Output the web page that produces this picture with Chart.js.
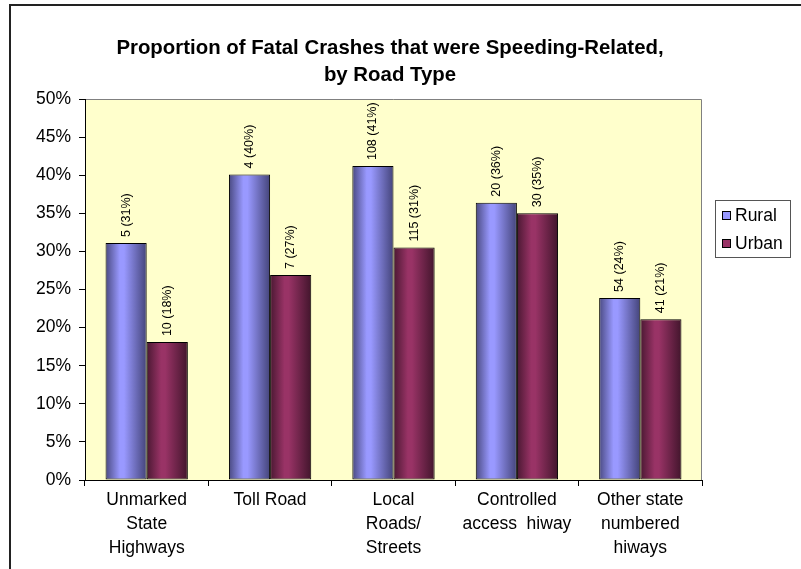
<!DOCTYPE html>
<html>
<head>
<meta charset="utf-8">
<script src="https://cdn.jsdelivr.net/npm/chart.js@4"></script>
<style>
  body { margin: 0; background: #fff; }
  #wrap { position: relative; width: 801px; height: 569px; }
</style>
</head>
<body>
<div id="wrap"><canvas id="crash_chart" width="801" height="569"></canvas></div>
<script>
// Chart data
const roadTypes = [
  ["Unmarked", "State", "Highways"],
  ["Toll Road"],
  ["Local", "Roads/", "Streets"],
  ["Controlled", "access  hiway"],
  ["Other state", "numbered", "hiways"]
];
const ruralPct = [31.1, 40.1, 41.2, 36.4, 23.9];
const urbanPct = [18.1, 26.9, 30.5, 35.0, 21.1];
const ruralCounts = [5, 4, 108, 20, 54];
const urbanCounts = [10, 7, 115, 30, 41];
const yTicks = [0, 5, 10, 15, 20, 25, 30, 35, 40, 45, 50];

const titleLines = ["Proportion of Fatal Crashes that were Speeding-Related,", "by Road Type"];
const FONT = "'Liberation Sans', Arial, sans-serif";
const CAT_PCT = 0.667;

// gradient stops for the cylinder-ish Excel fill
const fills = {
  Rural: ["#4a4a82", "#9999ff", "#9999ff", "#44447a"],
  Urban: ["#4a1832", "#993366", "#993366", "#42152c"]
};

const barFill = (ctx) => {
  const chart = ctx.chart;
  const area = chart.chartArea;
  const label = ctx.dataset.label;
  if (!area || ctx.dataIndex === undefined) return fills[label][1];
  const xs = chart.scales.x;
  const catW = xs.width / roadTypes.length;
  const barW = catW * CAT_PCT / 2;
  const center = xs.getPixelForValue(ctx.dataIndex);
  const left = center - barW + ctx.datasetIndex * barW;
  const g = chart.ctx.createLinearGradient(left, 0, left + barW, 0);
  const s = fills[label];
  g.addColorStop(0, s[0]);
  g.addColorStop(0.35, s[1]);
  g.addColorStop(0.45, s[2]);
  g.addColorStop(1, s[3]);
  return g;
};

// frame, plot background and border
const backdrop = {
  id: "backdrop",
  beforeDraw(chart) {
    const c = chart.ctx;
    const a = chart.chartArea;
    c.save();
    c.fillStyle = "#fff";
    c.fillRect(0, 0, chart.width, chart.height);
    c.fillStyle = "#222";
    c.fillRect(9, 4, 2, chart.height - 4);
    c.fillRect(9, 4, chart.width - 9, 2);
    c.fillStyle = "#ffffcc";
    c.fillRect(a.left, a.top, a.right - a.left, a.bottom - a.top);
    c.strokeStyle = "#808080";
    c.lineWidth = 1;
    c.beginPath();
    c.moveTo(a.left, a.top + 0.5);
    c.lineTo(a.right - 0.5, a.top + 0.5);
    c.lineTo(a.right - 0.5, a.bottom);
    c.stroke();
    c.restore();
  },
  afterDraw(chart) {
    const c = chart.ctx;
    c.save();
    // title
    c.fillStyle = "#000";
    c.font = "bold 20.4px " + FONT;
    c.textAlign = "center";
    c.textBaseline = "middle";
    c.fillText(titleLines[0], 390, 48);
    c.fillText(titleLines[1], 390, 75);
    // legend
    const lx = 715, ly = 200, lw = 75, lh = 57;
    c.fillStyle = "#fff";
    c.fillRect(lx, ly, lw, lh);
    c.strokeStyle = "#555";
    c.lineWidth = 1;
    c.strokeRect(lx + 0.5, ly + 0.5, lw, lh);
    chart.data.datasets.forEach((ds, i) => {
      const y = ly + 15 + i * 28;
      c.fillStyle = fills[ds.label][1];
      c.fillRect(lx + 7, y - 4, 9, 9);
      c.strokeStyle = "#000";
      c.strokeRect(lx + 7.5, y - 3.5, 8, 8);
      c.fillStyle = "#000";
      c.font = "17.5px " + FONT;
      c.textAlign = "left";
      c.fillText(ds.label, lx + 20, y + 1);
    });
    c.restore();
  }
};

// vertical value labels above each bar
const barLabels = {
  id: "barLabels",
  afterDatasetsDraw(chart) {
    const c = chart.ctx;
    c.save();
    c.fillStyle = "#000";
    c.font = "12.5px " + FONT;
    c.textAlign = "left";
    c.textBaseline = "middle";
    chart.data.datasets.forEach((ds, di) => {
      const counts = di === 0 ? ruralCounts : urbanCounts;
      chart.getDatasetMeta(di).data.forEach((bar, i) => {
        c.save();
        c.translate(bar.x, bar.y - 6);
        c.rotate(-Math.PI / 2);
        c.fillText(counts[i] + " (" + Math.round(ds.data[i]) + "%)", 0, 0);
        c.restore();
      });
    });
    c.restore();
  }
};

new Chart(document.getElementById("crash_chart"), {
  type: "bar",
  data: {
    labels: roadTypes,
    datasets: [
      { label: "Rural", data: ruralPct, backgroundColor: barFill, borderColor: "#000", borderWidth: 1, borderSkipped: false },
      { label: "Urban", data: urbanPct, backgroundColor: barFill, borderColor: "#000", borderWidth: 1, borderSkipped: false }
    ]
  },
  options: {
    responsive: false,
    animation: false,
    devicePixelRatio: 1,
    categoryPercentage: CAT_PCT,
    barPercentage: 1,
    layout: { padding: { top: 99, right: 99, left: 0, bottom: 0 } },
    plugins: {
      legend: { display: false },
      title: { display: false },
      tooltip: { enabled: false }
    },
    scales: {
      x: {
        afterFit: (s) => { s.height = 89; },
        grid: { offset: true, drawOnChartArea: false, color: "#000", tickLength: 6, tickColor: "#000" },
        border: { color: "#000", width: 1 },
        ticks: { color: "#000", font: { family: FONT, size: 17.5, lineHeight: 1.37 }, padding: 2, maxRotation: 0, autoSkip: false }
      },
      y: {
        min: 0,
        max: 50,
        afterFit: (s) => { s.width = 85; },
        afterBuildTicks: (s) => { s.ticks = yTicks.map((v) => ({ value: v })); },
        grid: { drawOnChartArea: false, color: "#000", tickLength: 6, tickColor: "#000" },
        border: { color: "#000", width: 1 },
        ticks: { color: "#000", font: { family: FONT, size: 17.5 }, padding: 8, callback: (v) => v + "%" }
      }
    }
  },
  plugins: [backdrop, barLabels]
});
</script>
</body>
</html>
